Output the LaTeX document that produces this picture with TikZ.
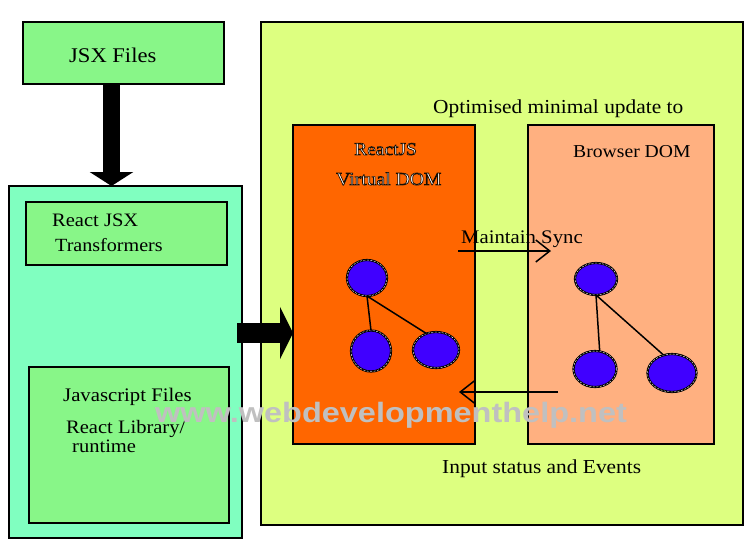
\documentclass[tikz,border=0pt]{standalone}
\usepackage{graphicx}
\usepackage{fontspec}
\setmainfont{Liberation Serif}[FakeStretch=1.08]
\newfontfamily\wmfont{Liberation Sans}
\usetikzlibrary{shapes.geometric,arrows.meta,calc}
\newcommand\fsz[1]{\fontsize{#1}{#1}\selectfont}
\newcommand\outlinedtext[1]{\special{pdf:literal direct 2 Tr 0.7 w 0.1 0.05 0 RG}#1\special{pdf:literal direct 0 Tr}}
\definecolor{jsxgreen}{RGB}{136,246,136}
\definecolor{aquabox}{RGB}{128,255,192}
\definecolor{limebox}{RGB}{221,255,128}
\definecolor{vorange}{RGB}{255,102,0}
\definecolor{peach}{RGB}{255,176,128}
\definecolor{dotblue}{RGB}{64,0,255}
\definecolor{wmgrey}{RGB}{192,192,192}
\begin{document}
\begin{tikzpicture}[x=1pt,y=-1pt,
 box/.style={draw=black,line width=2pt,anchor=north west,inner sep=0pt,outer sep=0pt},
 lbl/.style={anchor=base west,inner sep=0pt,text=black},
 dot/.style={ellipse,draw=black,line width=2.2pt,fill=dotblue,inner sep=0pt,outer sep=0pt,
   postaction={draw=white,line width=0.4pt,dash pattern=on 2pt off 1.5pt}},
 treeedge/.style={draw=black,line width=1.5pt},
 thinarrow/.style={line width=1.5pt,-{Straight Barb[length=14pt,width=22pt,line width=1.5pt]}}
]
\useasboundingbox (0,0) rectangle (750,555);
\fill[white] (0,0) rectangle (750,555);

% boxes
\node[box,fill=jsxgreen,minimum width=201pt,minimum height=62pt] (jsx) at (23,22) {};
\node[box,fill=aquabox,minimum width=233pt,minimum height=352pt] (left) at (9,186) {};
\node[box,fill=jsxgreen,minimum width=201pt,minimum height=63pt] (trans) at (26,202) {};
\node[box,fill=jsxgreen,minimum width=200pt,minimum height=156pt] (js) at (29,367) {};
\node[box,fill=limebox,minimum width=482pt,minimum height=503pt] (right) at (261,22) {};
\node[box,fill=vorange,minimum width=182pt,minimum height=319pt] (vdom) at (293,125) {};
\node[box,fill=peach,minimum width=186pt,minimum height=319pt] (bdom) at (528,125) {};

% labels
\node[lbl,font=\fsz{20.9}] (tjsx) at (69,62) {JSX Files};
\node[lbl,font=\fsz{19}] (trj) at (52,226) {React JSX};
\node[lbl,font=\fsz{18.6}] (ttr) at (55,251) {Transformers};
\node[lbl,font=\fsz{19.2}] (tjs) at (63,401) {Javascript Files};
\node[lbl,font=\fsz{19}] (trl) at (66,433) {React Library/};
\node[lbl,font=\fsz{19}] (trt) at (72,452) {runtime};
\node[lbl,font=\fsz{19.8}] (topt) at (433,113) {Optimised minimal update to};
\node[lbl,font=\fsz{18},text=white] (treact) at (354,155) {\outlinedtext{ReactJS}};
\node[lbl,font=\fsz{18.2},text=white] (tvirt) at (336,185) {\outlinedtext{Virtual DOM}};
\node[lbl,font=\fsz{18.2}] (tbrow) at (573,157) {Browser DOM};
\node[lbl,font=\fsz{19.2}] (tsync) at (461,243) {Maintain Sync};
\node[lbl,font=\fsz{19.8}] (tinput) at (442,473) {Input status and Events};

% trees
\node[dot,minimum width=40pt,minimum height=36pt] (v1) at (367,278) {};
\node[dot,minimum width=40pt,minimum height=41pt] (v2) at (371,351) {};
\node[dot,minimum width=46pt,minimum height=36pt] (v3) at (436,350) {};
\draw[treeedge] (v1.south) -- (v2.north);
\draw[treeedge] (v1.south) -- (v3.120);
\node[dot,minimum width=42pt,minimum height=32pt] (b1) at (596,279) {};
\node[dot,minimum width=43pt,minimum height=36pt] (b2) at (595,369) {};
\node[dot,minimum width=49pt,minimum height=38pt] (b3) at (672,373) {};
\draw[treeedge] (b1.south) -- (b2.75);
\draw[treeedge] (b1.south) -- (b3.115);

% big arrows
\draw[line width=17pt,-{Triangle[length=14pt,width=43pt]}]
  ([xshift=-12pt]jsx.south) -- ([xshift=-12pt]jsx.south |- left.north);
\coordinate (a1) at (237,333);
\draw[line width=20pt,-{Triangle[length=13pt,width=52pt]}] (a1) -- (a1 -| vdom.west);

% thin arrows
\coordinate (s1) at (458,251);
\coordinate (s2) at (551,251);
\draw[thinarrow] (s1) -- (s2);
\coordinate (e1) at (558,392);
\coordinate (e2) at (459,392);
\draw[thinarrow] (e1) -- (e2);

% watermark
\node[anchor=base west,inner sep=0pt,text=wmgrey,font=\wmfont\bfseries\fsz{28}] (wm) at (155,422)
  {\scalebox{1.16}[1]{www.webdevelopmenthelp.net}};
\end{tikzpicture}
\end{document}
